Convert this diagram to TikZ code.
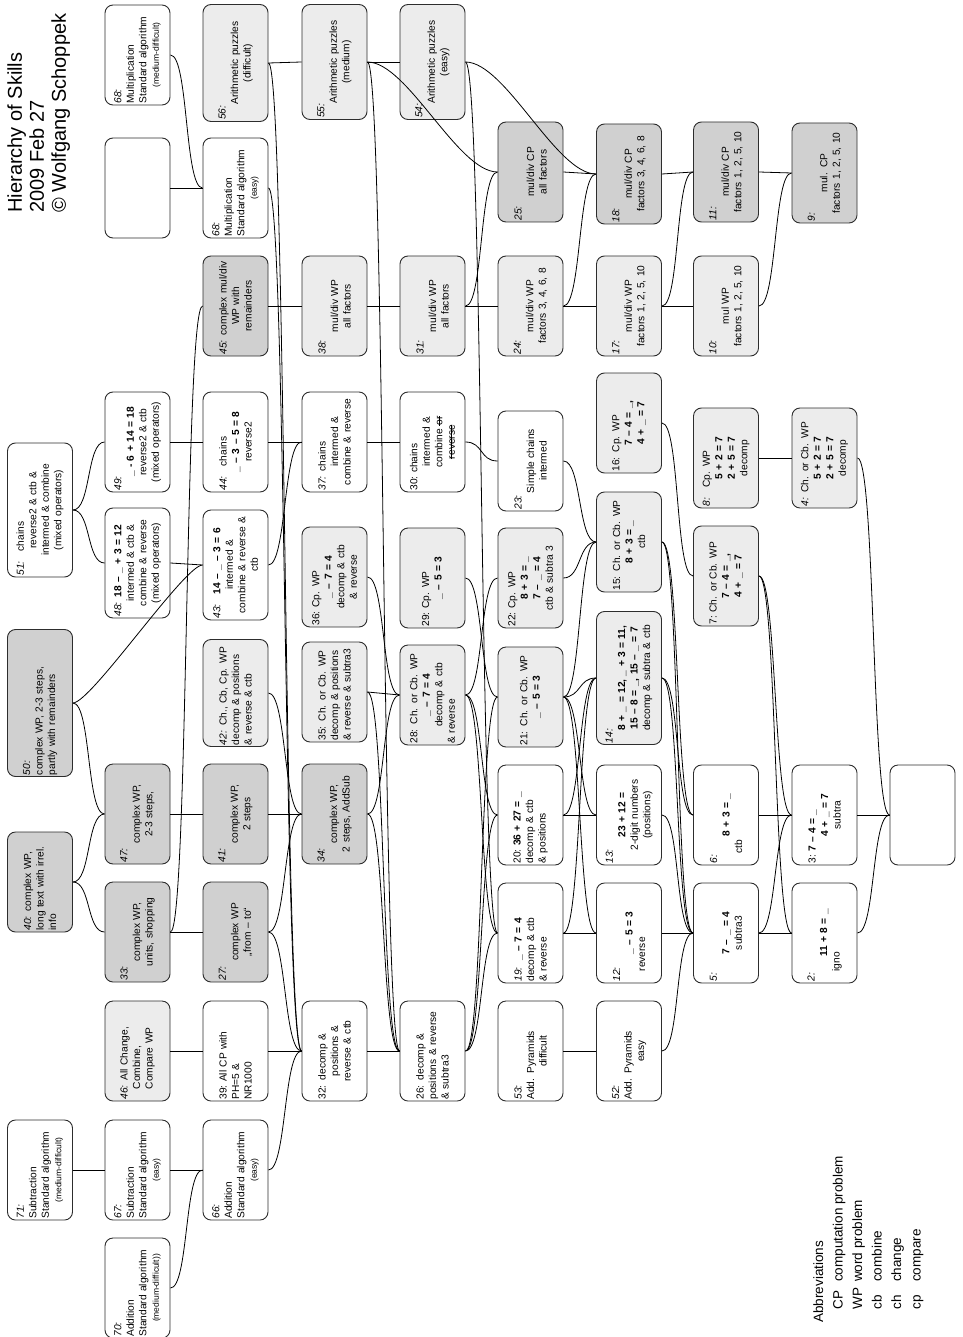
\documentclass[tikz,border=0pt]{standalone}
\usepackage{fontspec}
\setmainfont{Liberation Sans}
\definecolor{boxline}{RGB}{45,45,45}
\definecolor{lightfill}{RGB}{236,236,236}
\definecolor{darkfill}{RGB}{208,208,208}
\tikzset{
  skill/.style={draw=boxline, line width=0.9pt, rounded corners=8pt, fill=white,
    rotate=90, minimum width=100pt, minimum height=65pt, inner sep=1.5pt,
    align=center, text width=97pt, font=\fontsize{10.2}{12.5}\selectfont},
  light/.style={skill, fill=lightfill},
  dark/.style={skill, fill=darkfill},
  link/.style={to path={.. controls +(#1,0pt) and +(-#1,0pt) .. (\tikztotarget)}},
  link/.default=18pt
}
\newcommand{\lbl}[1]{\makebox[\linewidth][l]{#1}}
\newcommand{\smalltext}{\fontsize{8.5}{10}\selectfont}
\newcommand{\strike}[1]{\leavevmode\setbox0=\hbox{#1}\copy0\kern-\wd0\rule[0.3em]{\wd0}{0.5pt}}

\begin{document}
\begin{tikzpicture}[x=1pt, y=-1pt, line width=0.8pt]
\useasboundingbox (0,0) rectangle (962,1337);

% title and legend
\node[rotate=90, anchor=north west, inner sep=0pt, align=left,
  font=\fontsize{20}{22}\selectfont] (title) at (7,213)
  {Hierarchy of Skills\\2009 Feb 27\\\textcopyright{} Wolfgang Schoppek};
\node[rotate=90, anchor=north west, inner sep=0pt,
  font=\fontsize{13.5}{19.5}\selectfont] (abbr) at (809,1323)
  {\begin{tabular}{@{\hspace{13pt}}l@{\hspace{6pt}}l}
   \multicolumn{2}{@{}l}{Abbreviations}\\
   CP & computation problem\\ WP & word problem\\
   cb & combine\\ ch & change\\ cp & compare
   \end{tabular}};

% row 0
\node[skill, minimum width=134pt, text width=131pt] (n51) at (40,510)
  {\lbl{\textit{51:}\quad chains}\\reverse2 \& ctb \&\\intermed \& combine\\(mixed operators)};
\node[dark, minimum width=147pt, text width=144pt] (n50) at (40,703)
  {\lbl{\textit{50:}}\\\lbl{complex WP, 2-3 steps,}\\\lbl{partly with remainders}};
\node[dark] (n40) at (40,882)
  {\lbl{\textit{40:} complex WP,}\\\lbl{long text with irrel.}\\\lbl{info}};
\node[skill] (n71) at (40,1170)
  {\lbl{\textit{71:}}\\\lbl{Subtraction}\\\lbl{Standard algorithm}\\{\smalltext(medium-difficult)}};

% row 1
\node[skill] (n68b) at (137.5,55)
  {\lbl{\textit{68:}}\\\lbl{Multiplication}\\\lbl{Standard algorithm}\\{\smalltext(medium-difficult)}};
\node[skill, minimum width=95pt] (e1) at (137.5,188) {};
\node[skill] (n49) at (137.5,442)
  {\lbl{\textit{49:}}\\\textbf{\_ - 6 + 14 = 18}\\reverse2 \& ctb\\(mixed operators)};
\node[skill, minimum width=110pt, text width=107pt] (n48) at (137.5,563)
  {\lbl{\textit{48:} \textbf{18 -- \_ + 3 = 12}}\\intermed \& ctb \&\\combine \& reverse\\(mixed operators)};
\node[dark] (n47) at (137.5,814) {\lbl{\textit{47:}}\\complex WP,\\2-3 steps,};
\node[dark] (n33) at (137.5,932) {\lbl{\textit{33:}}\\complex WP,\\units, shopping};
\node[light] (n46) at (137.5,1051)
  {\lbl{\textit{46:} All Change,}\\\lbl{\quad Combine,}\\\lbl{\quad Compare WP}};
\node[skill] (n67) at (137.5,1170)
  {\lbl{\textit{67:}}\\\lbl{Subtraction}\\\lbl{Standard algorithm}\\{\smalltext(easy)}};
\node[skill, minimum width=96pt] (n70) at (137.5,1288)
  {\lbl{\textit{70:}}\\\lbl{Addition}\\\lbl{Standard algorithm}\\{\smalltext(medium-difficult))}};

% row 2
\node[light, minimum width=117pt, text width=114pt] (n56) at (235.5,63)
  {\lbl{\textit{56:}}\\Arithmetic puzzles\\(difficult)};
\node[skill, minimum width=95pt] (n68a) at (235.5,188)
  {\lbl{\textit{68:}}\\\lbl{Multiplication}\\\lbl{Standard algorithm}\\{\smalltext(easy)}};
\node[dark] (n45) at (235.5,306) {\lbl{\textit{45:} complex mul/div}\\WP with\\remainders};
\node[skill] (n44) at (235.5,442) {\lbl{\textit{44:}\quad chains}\\\textbf{\_ -- 3 -- 5 = 8}\\reverse2};
\node[skill, minimum width=110pt, text width=107pt] (n43) at (235.5,565)
  {\lbl{\textit{43:}\quad\textbf{14 -- \_ -- 3 = 6}}\\intermed \&\\combine \& reverse \&\\ctb};
\node[light, minimum width=107pt, text width=104pt] (n42) at (235.5,693)
  {\lbl{\textit{42:} Ch., Cb, Cp. WP}\\\lbl{decomp \& positions}\\\lbl{\& reverse \& ctb}};
\node[dark] (n41) at (235.5,814) {\lbl{\textit{41:}}\\complex WP,\\2 steps};
\node[dark] (n27) at (235.5,932) {\lbl{\textit{27:}}\\complex WP\\,,from -- to``};
\node[skill] (n39) at (235.5,1051) {\lbl{39:\ All CP with}\\\lbl{PH=5 \&}\\\lbl{NR1000}};
\node[skill] (n66) at (235.5,1170)
  {\lbl{\textit{66:}}\\\lbl{Addition}\\\lbl{Standard algorithm}\\{\smalltext(easy)}};

% row 3
\node[light, minimum width=115pt, text width=112pt] (n55) at (334.5,62)
  {\lbl{\textit{55:}}\\Arithmetic puzzles\\(medium)};
\node[light] (n38) at (334.5,306) {\lbl{\textit{38:}}\\mul/div WP\\all factors};
\node[skill] (n37) at (334.5,442) {\lbl{\textit{37:} chains}\\intermed \&\\combine \& reverse};
\node[light] (n36) at (334.5,577) {\lbl{36:\ Cp. WP}\\\textbf{\_ -- 7 = 4}\\decomp \& ctb\\\& reverse};
\node[light] (n35) at (334.5,692)
  {\lbl{35: Ch. or Cb. WP}\\\lbl{decomp \& positions}\\\lbl{\& reverse \& subtra3}};
\node[dark] (n34) at (334.5,814) {\lbl{\textit{34:}}\\complex WP,\\2 steps, AddSub};
\node[skill] (n32) at (334.5,1051) {\lbl{32: decomp \&}\\positions \&\\reverse \& ctb};

% row 4
\node[light, minimum width=115pt, text width=112pt] (n54) at (432.5,62)
  {\lbl{\textit{54:}}\\Arithmetic puzzles\\(easy)};
\node[light] (n31) at (432.5,306) {\lbl{\textit{31:}}\\mul/div WP\\all factors};
\node[skill] (n30) at (432.5,442)
  {\lbl{30:\ chains}\\intermed \&\\combine \strike{or}\\\strike{reverse}};
\node[light] (n29) at (432.5,578) {\lbl{29:\ Cp. WP}\\\textbf{\_ -- 5 = 3}};
\node[light] (n28) at (432.5,695) {\lbl{28: Ch. or Cb. WP}\\\textbf{\_ -- 7 = 4}\\decomp \& ctb\\\lbl{\& reverse}};
\node[skill] (n26) at (432.5,1051)
  {\lbl{26: decomp \&}\\\lbl{positions \& reverse}\\\lbl{\& subtra3}};

% row 5
\node[dark] (n25) at (530.5,172) {\lbl{\textit{25:}}\\mul/div CP\\all factors};
\node[light] (n24) at (530.5,306) {\lbl{\textit{24:}}\\mul/div WP\\factors 3, 4, 6, 8};
\node[skill, minimum width=97pt] (n23) at (530.5,461) {\lbl{\textit{23:}}\\Simple chains\\intermed};
\node[light] (n22) at (530.5,578) {\lbl{22:\ Cp. WP}\\\textbf{8 + 3 = \_}\\\textbf{7 -- \_ = 4}\\ctb \& subtra 3};
\node[light] (n21) at (530.5,697) {\lbl{21: Ch. or Cb. WP}\\\textbf{\_ -- 5 = 3}};
\node[skill] (n20) at (530.5,815) {\lbl{20:\ \textbf{36 + 27 = \_}}\\\lbl{decomp \& ctb}\\\lbl{\& positions}};
\node[skill] (n19) at (530.5,933) {\lbl{\textit{19:}\ \ \textbf{\_ -- 7 = 4}}\\\lbl{decomp \& ctb}\\\lbl{\& reverse}};
\node[skill] (n53) at (530.5,1051) {\lbl{\textit{53:}}\\\lbl{Add. Pyramids}\\difficult};

% row 6
\node[dark] (n18) at (629,174) {\lbl{\textit{18:}}\\mul/div CP\\factors 3, 4, 6, 8};
\node[light] (n17) at (629,306) {\lbl{\textit{17:}}\\mul/div WP\\factors 1, 2, 5, 10};
\node[light, minimum width=97pt] (n16) at (629,423) {\lbl{16: Cp. WP}\\\textbf{7 -- 4 = \_,}\\\textbf{4 + \_ = 7}};
\node[light] (n15) at (629,542) {\lbl{15: Ch. or Cb. WP}\\\textbf{8 + 3 = \_}\\ctb};
\node[light, minimum width=133pt, text width=130pt] (n14) at (629,678)
  {\lbl{\textit{14:}}\\\textbf{8 + \_ = 12, \_ + 3 = 11,}\\\textbf{15 -- 8 = \_, 15 -- \_ = 7}\\decomp \& subtra \& ctb};
\node[skill] (n13) at (629,815) {\lbl{\textit{13:}}\\\textbf{23 + 12 =}\\2-digit numbers\\(positions)};
\node[skill] (n12) at (629,933) {\lbl{\textit{12:}}\\\textbf{\_ -- 5 = 3}\\\lbl{\quad reverse}};
\node[skill] (n52) at (629,1051) {\lbl{\textit{52:}}\\\lbl{Add. Pyramids}\\easy};

% row 7
\node[dark] (n11) at (726,172) {\lbl{\textit{11:}}\\mul/div CP\\factors 1, 2, 5, 10};
\node[light] (n10) at (726,306) {\lbl{\textit{10:}}\\mul WP\\factors 1, 2, 5, 10};
\node[light] (n8) at (726,458) {\lbl{\textit{8:}\quad Cp. WP}\\\textbf{5 + 2 = 7}\\\textbf{2 + 5 = 7}\\decomp};
\node[light] (n7) at (726,576) {\lbl{7:\ Ch. or Cb. WP}\\\textbf{7 -- 4 = \_,}\\\textbf{4 + \_ = 7}};
\node[skill] (n6) at (726,815) {\lbl{\textit{6:}}\\\textbf{8 + 3 = \_}\\\lbl{\quad ctb}};
\node[skill] (n5) at (726,933) {\lbl{\textit{5:}}\\\textbf{7 -- \_ = 4}\\subtra3};

% row 8
\node[dark] (n9) at (824.5,173) {\lbl{\textit{9:}}\\mul. CP\\factors 1, 2, 5, 10};
\node[light] (n4) at (824.5,458) {\lbl{\textit{4:} Ch. or Cb. WP}\\\textbf{5 + 2 = 7}\\\textbf{2 + 5 = 7}\\decomp};
\node[skill] (n3) at (824.5,815) {\lbl{3:\ \textbf{7 -- 4 = \_}}\\\textbf{4 + \_ = 7}\\subtra};
\node[skill] (n2) at (824.5,933) {\lbl{\textit{2:}}\\\textbf{11 + 8 = \_}\\\lbl{\quad igno}};

% row 9
\node[skill] (e9) at (922.5,815) {};

% links
\draw (n68b.south) to[link] (n68a.north);
\draw (e1.south) -- (n68a.north);
\draw (n56.south) -- (n55.north);
\draw (n55.south) -- (n54.north);
\draw (n56.south) to[link] (n32.north);
\draw (n68a.south) to[link] (n32.north);
\draw (n45.south) -- (n38.north);
\draw (n38.south) -- (n31.north);
\draw (n31.south) -- (n24.north);
\draw (n24.south) -- (n17.north);
\draw (n17.south) -- (n10.north);
\draw (n31.south) to[link] (n25.north);
\draw (n55.south) to[link=40pt] (n25.north);
\draw (n54.south) to[link=40pt] (n18.north);
\draw (n25.south) -- (n18.north);
\draw (n24.south) to[link] (n18.north);
\draw (n18.south) -- (n11.north);
\draw (n17.south) to[link] (n11.north);
\draw (n11.south) -- (n9.north);
\draw (n10.south) to[link] (n9.north);
\draw (n51.south) to[link] (n49.north);
\draw (n51.south) to[link] (n48.north);
\draw (n49.south) -- (n44.north);
\draw (n48.south) -- (n43.north);
\draw (n44.south) -- (n37.north);
\draw (n43.south) to[link] (n37.north);
\draw (n37.south) -- (n30.north);
\draw (n30.south) to[link] (n23.north);
\draw (n23.south) to[link] (n15.north);
\draw (n22.south) to[link] (n15.north);
\draw (n55.south) to[link] (n26.north);
\draw (n54.south) to[link] (n19.north);
\draw (n36.south) to[link] (n28.north);
\draw (n35.south) -- (n28.north);
\draw (n34.south) to[link] (n28.north);
\draw (n34.south) to[link] (n26.north);
\draw (n35.south) to[link] (n26.north);
\draw (n29.south) to[link] (n21.north);
\draw (n28.south) to[link] (n22.north);
\draw (n28.south) to[link] (n19.north);
\draw (n28.south) to[link] (n20.north);
\draw (n26.south) to[link] (n19.north);
\draw (n26.south) to[link] (n20.north);
\draw (n26.south) to[link] (n21.north);
\draw (n21.south) to[link] (n14.north);
\draw (n21.south) to[link] (n15.north);
\draw (n21.south) to[link] (n12.north);
\draw (n21.south) to[link] (n13.north);
\draw (n20.south) -- (n13.north);
\draw (n20.south) to[link] (n14.north);
\draw (n19.south) -- (n12.north);
\draw (n19.south) to[link] (n14.north);
\draw (n16.south) to[link] (n7.north);
\draw (n15.south) to[link] (n6.north);
\draw (n15.south) to[link] (n5.north);
\draw (n14.south) to[link] (n6.north);
\draw (n14.south) to[link] (n5.north);
\draw (n13.south) to[link] (n5.north);
\draw (n12.south) -- (n5.north);
\draw (n52.south) to[link] (n5.north);
\draw (n53.south) -- (n52.north);
\draw (n8.south) -- (n4.north);
\draw (n7.south) to[link] (n3.north);
\draw (n7.south) to[link] (n2.north);
\draw (n6.south) -- (n3.north);
\draw (n5.south) to[link] (n3.north);
\draw (n5.south) -- (n2.north);
\draw (n4.south) to[link] (e9.north);
\draw (n3.south) -- (e9.north);
\draw (n2.south) to[link] (e9.north);
\draw (n50.south) to[link] (n47.north);
\draw (n40.south) to[link] (n47.north);
\draw (n40.south) to[link] (n33.north);
\draw (n50.south) to[link] (n43.north);
\draw (n33.south) to[link] (n45.north);
\draw (n47.south) -- (n41.north);
\draw (n33.south) -- (n27.north);
\draw (n41.south) -- (n34.north);
\draw (n27.south) to[link] (n34.north);
\draw (n42.south) to[link] (n34.north);
\draw (n27.south) to[link] (n32.north);
\draw (n46.south) -- (n39.north);
\draw (n39.south) -- (n32.north);
\draw (n32.south) -- (n26.north);
\draw (n71.south) -- (n67.north);
\draw (n67.south) -- (n66.north);
\draw (n70.south) to[link] (n66.north);
\draw (n66.south) to[link] (n32.north);
\end{tikzpicture}
\end{document}
